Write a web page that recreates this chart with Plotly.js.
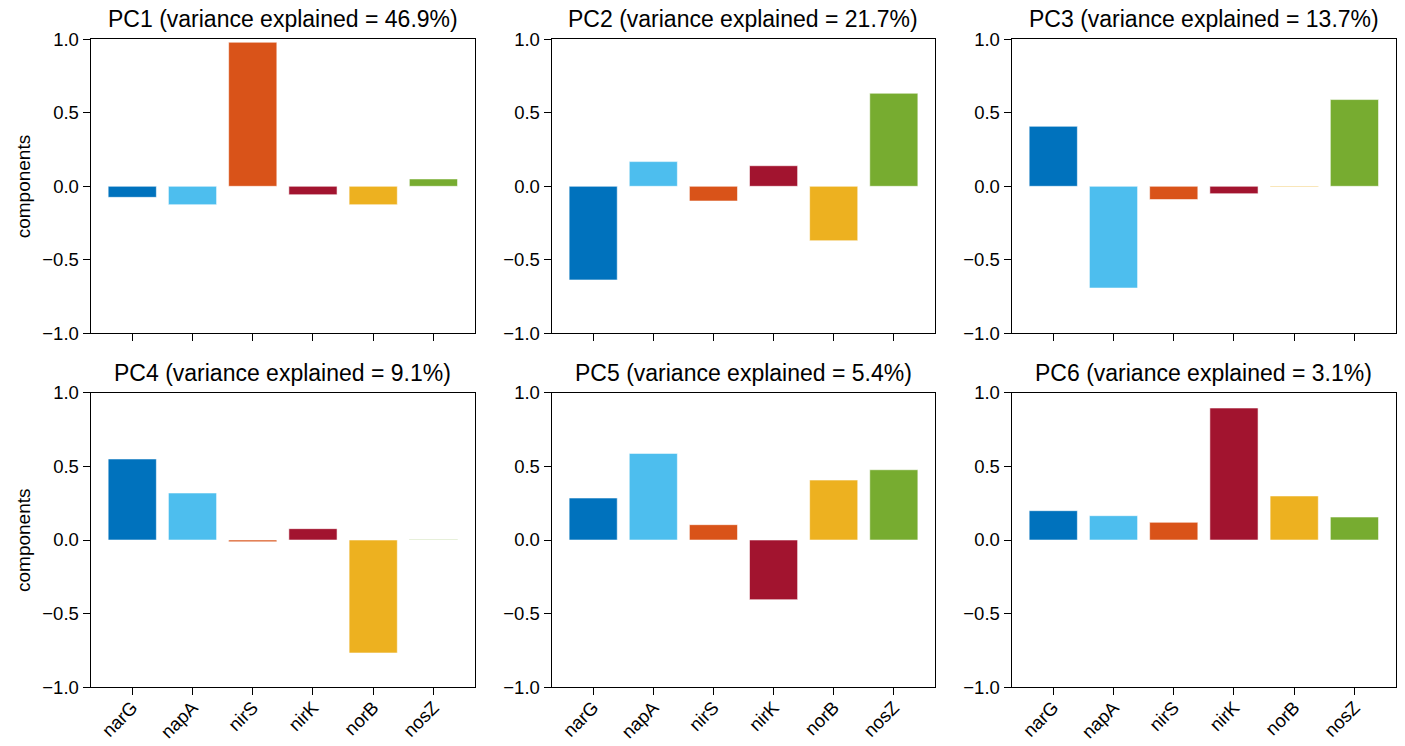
<!DOCTYPE html>
<html>
<head>
<meta charset="utf-8">
<script src="https://cdn.plot.ly/plotly-3.0.1.min.js"></script>
<style>html,body{margin:0;padding:0;background:#fff;}#chart{width:1405px;height:746px;}</style>
</head>
<body>
<div id="chart"></div>
<script>
// ---- data ----
const genes = ["narG", "napA", "nirS", "nirK", "norB", "nosZ"];
const pcNames = ["PC1", "PC2", "PC3", "PC4", "PC5", "PC6"];
const varianceExplained = [46.9, 21.7, 13.7, 9.1, 5.4, 3.1];
const pc1 = [-0.075, -0.125, 0.98, -0.057, -0.125, 0.05];
const pc2 = [-0.637, 0.168, -0.10, 0.14, -0.37, 0.633];
const pc3 = [0.408, -0.692, -0.09, -0.05, -0.005, 0.59];
const pc4 = [0.55, 0.319, -0.012, 0.077, -0.767, 0.003];
const pc5 = [0.285, 0.588, 0.104, -0.405, 0.407, 0.477];
const pc6 = [0.199, 0.165, 0.12, 0.896, 0.299, 0.156];
const yTicks = [-1.0, -0.5, 0.0, 0.5, 1.0];
const barColors = ["#0072BD", "#4DBEEE", "#D95319", "#A2142F", "#EDB120", "#77AC30"];

const allPCs = [pc1, pc2, pc3, pc4, pc5, pc6];

// ---- layout geometry (pixels) ----
const W = 1405, H = 746;
const colsPx = [[90.7, 475], [551.7, 935.3], [1011.7, 1396]];
const rowsPx = [[39.3, 333.3], [392.7, 687.3]];
const FONT = "Liberation Sans, Arial, Helvetica, sans-serif";

const data = [];
const layout = {
  width: W, height: H,
  margin: {l: 0, r: 0, t: 0, b: 0},
  paper_bgcolor: "#ffffff",
  plot_bgcolor: "#ffffff",
  showlegend: false,
  font: {family: FONT, color: "#000", size: 18},
  annotations: [],
  bargap: 0.2
};

for (let i = 0; i < 6; i++) {
  const r = Math.floor(i / 3), c = i % 3;
  const n = i + 1;
  const xa = "x" + (n === 1 ? "" : n), ya = "y" + (n === 1 ? "" : n);
  data.push({
    type: "bar",
    x: genes,
    y: allPCs[i],
    xaxis: xa, yaxis: ya,
    width: 0.8,
    marker: {color: barColors, line: {color: "rgba(255,255,255,0.55)", width: 1}},
    hoverinfo: "x+y"
  });
  const xd = [colsPx[c][0] / W, colsPx[c][1] / W];
  const yd = [(H - rowsPx[r][1]) / H, (H - rowsPx[r][0]) / H];
  layout["xaxis" + (n === 1 ? "" : n)] = {
    domain: xd,
    anchor: ya,
    type: "category",
    range: [-0.69, 5.69],
    showline: true, mirror: true, linecolor: "#000", linewidth: 1.3,
    ticks: "outside", ticklen: 7, tickwidth: 1.3, tickcolor: "#000",
    showticklabels: r === 1,
    tickangle: -45,
    ticklabelstandoff: -6,
    tickfont: {family: FONT, size: 18.5, color: "#000"},
    showgrid: false, zeroline: false, fixedrange: true
  };
  layout["yaxis" + (n === 1 ? "" : n)] = {
    domain: yd,
    anchor: xa,
    range: [-1, 1],
    tickvals: yTicks,
    tickformat: ".1f",
    showline: true, mirror: true, linecolor: "#000", linewidth: 1.3,
    ticks: "outside", ticklen: 7, tickwidth: 1.3, tickcolor: "#000",
    tickfont: {family: FONT, size: 18.5, color: "#000"},
    showgrid: false, zeroline: false, fixedrange: true
  };
  // panel title
  layout.annotations.push({
    xref: "paper", yref: "paper",
    x: (xd[0] + xd[1]) / 2,
    y: yd[1] + 20 / H,
    xanchor: "center", yanchor: "middle",
    text: pcNames[i] + " (variance explained = " + varianceExplained[i].toFixed(1) + "%)",
    showarrow: false,
    font: {family: FONT, size: 23, color: "#000"}
  });
  if (c === 0) {
    layout.annotations.push({
      xref: "paper", yref: "paper",
      x: 23 / W,
      y: (yd[0] + yd[1]) / 2,
      xanchor: "center", yanchor: "middle",
      textangle: -90,
      text: "components",
      showarrow: false,
      font: {family: FONT, size: 19, color: "#000"}
    });
  }
}

Plotly.newPlot("chart", data, layout, {displayModeBar: false, staticPlot: false});
</script>
</body>
</html>
